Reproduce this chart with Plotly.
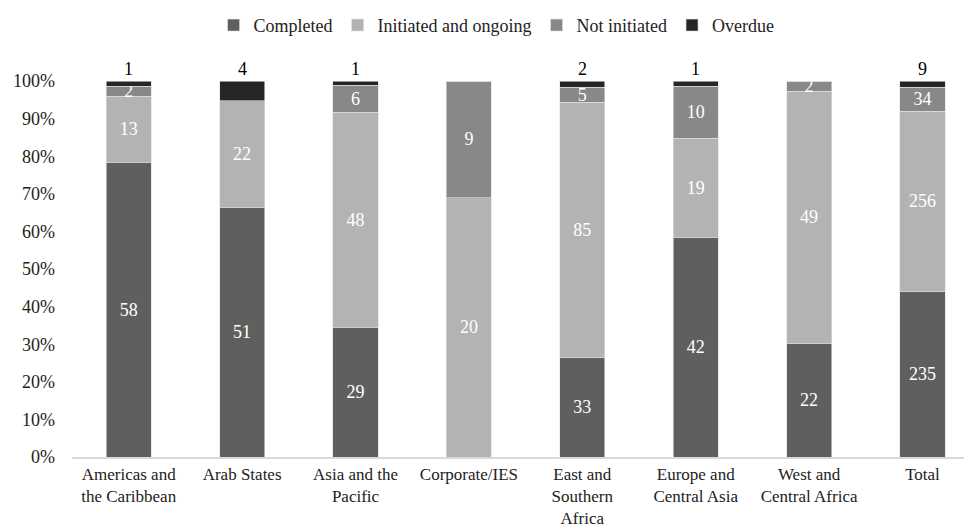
import plotly.graph_objects as go

categories = ["Americas and<br>the Caribbean", "Arab States", "Asia and the<br>Pacific",
              "Corporate/IES", "East and<br>Southern<br>Africa", "Europe and<br>Central Asia",
              "West and<br>Central Africa", "Total"]
completed = [58, 51, 29, 0, 33, 42, 22, 235]
initiated = [13, 22, 48, 20, 85, 19, 49, 256]
not_initiated = [2, 0, 6, 9, 5, 10, 2, 34]
overdue = [1, 4, 1, 0, 2, 1, 0, 9]

series = [
    ("Completed", completed, "#5f5f5f"),
    ("Initiated and ongoing", initiated, "#b3b3b3"),
    ("Not initiated", not_initiated, "#888888"),
    ("Overdue", overdue, "#262626"),
]

FONT = "Liberation Serif"
FS = 18
fig = go.Figure()
for name, vals, color in series:
    show_text = name != "Overdue"
    fig.add_trace(go.Bar(
        name=name, x=categories, y=vals,
        marker=dict(color=color, line=dict(color="#e0e0e0", width=0.6)),
        text=[(str(v) if v > 0 else "") for v in vals] if show_text else None,
        textposition="inside", insidetextanchor="middle", textangle=0,
        textfont=dict(color="white", size=FS, family=FONT),
        width=0.397,
    ))

for c, v in zip(categories, overdue):
    if v > 0:
        fig.add_annotation(x=c, y=100, text=str(v), showarrow=False, yanchor="bottom",
                           yshift=0, font=dict(size=FS, color="black", family=FONT))

fig.update_layout(
    barmode="stack", barnorm="percent",
    width=964, height=531,
    margin=dict(l=72, r=0, t=81, b=74),
    plot_bgcolor="white", paper_bgcolor="white",
    font=dict(family=FONT, size=FS, color="#222222"),
    uniformtext=dict(minsize=FS, mode="show"),
    legend=dict(orientation="h", x=0.476, xanchor="center", y=0.987, yanchor="top",
                yref="container", font=dict(size=FS, family=FONT), traceorder="normal",
                itemwidth=30, tracegroupgap=0),
    yaxis=dict(range=[0, 100], tickvals=[0, 10, 20, 30, 40, 50, 60, 70, 80, 90, 100],
               ticktext=[f"{v}%" for v in range(0, 101, 10)], showgrid=False,
               zeroline=False, ticks="", ticklabelstandoff=16, automargin=False,
               tickfont=dict(size=FS, family=FONT)),
    xaxis=dict(showline=True, linecolor="#d9d9d9", linewidth=1.5, ticks="",
               ticklabelstandoff=1, automargin=False,
               range=[-0.5, 7.366], tickfont=dict(size=17, family=FONT)),
)

fig.write_html("out.html")
